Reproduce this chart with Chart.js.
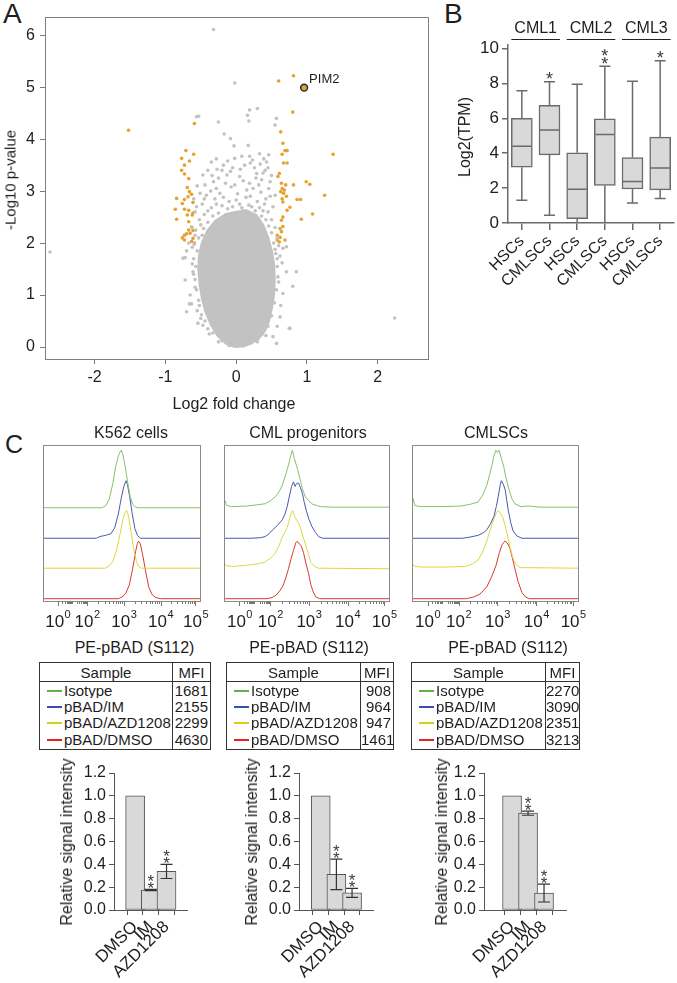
<!DOCTYPE html>
<html>
<head>
<meta charset="utf-8">
<title>PIM2 / pBAD figure</title>
<script src="https://cdn.jsdelivr.net/npm/chart.js@4.4.1/dist/chart.umd.min.js"></script>
<style>
    html, body { margin: 0; padding: 0; background: #fff; }
    body { position: relative; width: 677px; height: 983px; overflow: hidden;
           font-family: 'Liberation Sans', Arial, Helvetica, sans-serif; color: #1e1e1e; }
    canvas { position: absolute; display: block; }
    .txt { position: absolute; white-space: nowrap; line-height: 1; font-size: 16px;
           transform: translate(-50%, -50%); }
    .rot { transform: translate(-50%, -50%) rotate(-90deg); }
    .letter { position: absolute; font-size: 28px; line-height: 1; }
    table.mfi { position: absolute; border-collapse: collapse; table-layout: fixed;
                font-size: 15px; line-height: 1; border: 1.5px solid #333; }
    table.mfi th, table.mfi td { padding: 0; font-weight: normal; white-space: nowrap; overflow: hidden; }
    table.mfi th { height: 18px; border-bottom: 1px solid #333; text-align: center; }
    table.mfi td { height: 16px; vertical-align: middle; }
    table.mfi tr.last td { height: 19px; }
    table.mfi .m { border-left: 1px solid #333; }
    table.mfi td.m { text-align: right; padding-right: 2px; }
    table.mfi td.s { padding-left: 7px; }
    table.mfi i { display: inline-block; width: 15px; height: 2px; vertical-align: middle; margin: -2px 2px 0 0; }
</style>
</head>
<body>

<div class="letter" style="left:3px; top:0px;">A</div>
<div class="letter" style="left:444px; top:0px;">B</div>
<div class="letter" style="left:5px; top:432px; font-size:25px;">C</div>

<canvas id="volcano" width="440" height="420" style="left:0; top:0;"></canvas>
<div class="txt rot" style="left:10px; top:180px; font-size:15px;">-Log10 p-value</div>
<div class="txt" style="left:234px; top:404px;">Log2 fold change</div>

<canvas id="boxes" width="237" height="300" style="left:440px; top:0;"></canvas>
<div class="txt rot" style="left:465px; top:137px;">Log2(TPM)</div>

<canvas id="hist0" width="198" height="195" style="left:23px; top:440px;"></canvas>
<canvas id="hist1" width="206" height="195" style="left:204px; top:440px;"></canvas>
<canvas id="hist2" width="207" height="195" style="left:392px; top:440px;"></canvas>

<canvas id="bars0" width="150" height="223" style="left:45px; top:760px;"></canvas>
<canvas id="bars1" width="150" height="223" style="left:230px; top:760px;"></canvas>
<canvas id="bars2" width="160" height="223" style="left:415px; top:760px;"></canvas>

<script>
// ---------------------------------------------------------------
// Data
// ---------------------------------------------------------------

// Panel A: volcano plot, [log2 fold change, -log10 p]
const volcanoXTicks = [-2, -1, 0, 1, 2];
const volcanoYTicks = [0, 1, 2, 3, 4, 5, 6];

// outline of the solid grey core of the cloud
const volcanoCore = [
    [0.0, -0.02], [0.12, 0.0], [0.22, 0.05], [0.33, 0.15], [0.42, 0.3], [0.48, 0.5],
    [0.52, 0.75], [0.55, 1.0], [0.56, 1.3], [0.55, 1.6], [0.52, 1.85], [0.47, 2.1],
    [0.40, 2.35], [0.30, 2.55], [0.15, 2.65], [0.0, 2.62], [-0.15, 2.58], [-0.30, 2.45],
    [-0.42, 2.25], [-0.50, 2.0], [-0.54, 1.75], [-0.55, 1.5], [-0.53, 1.2], [-0.50, 0.95],
    [-0.45, 0.68], [-0.37, 0.42], [-0.27, 0.2], [-0.15, 0.05], [-0.07, 0.0]
];

const volcanoGrey = [
    [-0.32, 6.11], [-0.02, 5.08], [0.30, 4.59], [0.19, 4.56], [0.16, 4.46], [0.18, 4.35],
    [0.57, 4.40], [0.55, 4.27], [-0.56, 4.43], [-0.53, 4.44], [-0.25, 4.33], [-0.17, 4.10],
    [-0.08, 4.01], [-0.03, 3.87], [0.17, 3.88],
    [-0.35, 3.56], [-0.02, 3.63], [0.08, 3.67], [0.19, 3.67], [0.33, 3.72], [0.43, 3.56],
    [0.39, 3.62], [-0.47, 3.31], [-0.18, 3.50], [-0.13, 3.31], [0.12, 3.50], [0.20, 3.54],
    [0.29, 3.34], [0.41, 3.40], [0.05, 3.28], [-0.32, 3.18], [-0.51, 2.96], [-0.07, 3.08],
    [0.19, 3.15], [0.48, 3.18], [0.55, 2.92], [-0.23, 2.96], [0.02, 2.95], [0.35, 2.98],
    [-0.40, 3.40], [-0.27, 3.42], [0.26, 3.45], [-0.44, 3.12], [0.10, 3.20], [0.36, 3.22],
    [-0.15, 3.15], [0.24, 3.05], [-0.36, 3.00], [0.46, 3.05], [0.50, 3.30], [-0.55, 3.10],
    [-0.60, 2.85], [-0.30, 2.85], [0.14, 2.88], [0.42, 2.85], [-0.48, 2.75], [-0.10, 2.80],
    [0.30, 2.80], [0.52, 2.70], [-0.58, 2.60], [-0.40, 2.62], [0.05, 2.75], [0.45, 2.60],
    [-0.52, 2.45], [0.50, 2.45], [-0.62, 2.30], [0.55, 2.30], [-0.58, 2.15], [0.58, 2.10],
    [-0.67, 2.00], [0.60, 1.95], [-0.70, 1.85], [-0.62, 1.92], [0.62, 1.75], [0.55, 1.88],
    [-0.75, 1.71], [-0.72, 1.72], [0.71, 1.93], [0.66, 1.90], [-0.20, 2.72], [0.22, 2.70],
    [-0.35, 2.68], [0.38, 2.62], [-0.25, 3.25], [0.32, 3.12], [-0.05, 3.45], [0.45, 3.45],
    [0.80, 1.17], [0.71, 1.45], [0.75, 0.36], [0.57, 0.07], [0.85, 1.45], [0.66, 1.03],
    [0.62, 0.58], [0.76, 0.36], [0.60, 1.25], [0.63, 0.80], [0.58, 0.40], [0.52, 0.20],
    [-0.63, 0.83], [-0.66, 0.83], [-0.70, 0.68], [-0.47, 0.42], [-0.54, 0.46], [-0.72, 1.29],
    [-0.65, 1.00], [-0.60, 1.40], [-0.58, 1.15], [-0.55, 0.70], [-0.50, 0.55], [-0.38, 0.25],
    [-0.25, 0.10], [0.30, 0.10], [0.42, 0.22], [-0.62, 1.60], [0.58, 1.55], [0.65, 1.62],
    [-0.56, 2.70], [-0.45, 2.55], [-0.50, 2.35], [-0.57, 2.25], [-0.53, 2.10], [-0.59, 1.98],
    [-0.55, 1.85], [-0.60, 1.70], [-0.57, 1.55], [-0.61, 1.45], [-0.58, 1.30], [-0.56, 1.10],
    [-0.53, 0.90], [-0.52, 0.80], [-0.49, 0.62], [-0.44, 0.50], [-0.40, 0.35], [-0.33, 0.27],
    [-0.20, 0.12], [-0.10, 0.03], [0.10, 0.02], [0.20, 0.10], [0.28, 0.16], [0.37, 0.25],
    [0.45, 0.40], [0.50, 0.60], [0.54, 0.85], [0.57, 1.10], [0.59, 1.35], [0.58, 1.70],
    [0.56, 1.80], [0.53, 2.00], [0.50, 2.20], [0.46, 2.33], [0.42, 2.45], [0.36, 2.52],
    [0.27, 2.62], [0.18, 2.73], [0.08, 2.68], [-0.05, 2.70], [-0.12, 2.66], [-0.25, 2.58],
    [-0.33, 2.52], [-0.40, 2.40], [-0.46, 2.28], [-0.48, 2.15],
    [-0.42, 2.92], [-0.18, 2.88], [0.00, 2.83], [0.20, 2.90], [0.40, 2.75], [-0.28, 3.05],
    [-0.02, 3.12], [0.15, 3.02], [0.28, 3.25], [-0.08, 3.38], [0.38, 3.35], [-0.34, 3.30],
    [0.06, 3.42], [-0.20, 3.40], [0.23, 3.60], [-0.28, 3.62], [0.46, 3.70], [-0.12, 3.58],
    [0.34, 3.52], [-0.45, 2.85], [0.48, 2.90], [0.10, 2.62], [-0.28, 2.75], [0.33, 2.68],
    [-2.63, 1.83], [2.24, 0.56]
];

const volcanoOrange = [
    [-1.52, 4.17], [-0.59, 4.30], [-0.71, 3.78], [-0.60, 3.71], [-0.77, 3.63], [-0.66, 3.58],
    [-0.73, 3.50], [-0.77, 3.40], [-0.73, 3.33], [-0.67, 3.24], [-0.69, 3.07], [-0.66, 2.99],
    [-0.63, 2.94], [-0.68, 2.89], [-0.84, 2.86], [-0.73, 2.84], [-0.61, 2.78], [-0.76, 2.76],
    [-0.86, 2.65], [-0.73, 2.65], [-0.67, 2.63], [-0.61, 2.58], [-0.69, 2.54], [-0.62, 2.54],
    [-0.84, 2.46], [-0.67, 2.41], [-0.63, 2.31], [-0.67, 2.25], [-0.61, 2.24], [-0.65, 2.19],
    [-0.73, 2.15], [-0.70, 2.18], [-0.76, 2.10], [-0.61, 2.09], [-0.63, 2.03], [-0.73, 2.06],
    [-0.59, 2.00],
    [0.60, 5.12], [0.81, 5.22], [0.80, 4.52], [0.63, 4.14], [0.66, 3.92], [0.69, 3.78],
    [0.72, 3.78], [0.65, 3.71], [0.67, 3.54], [0.72, 3.54], [0.61, 3.34], [0.59, 3.28],
    [0.64, 3.15], [0.70, 3.12], [0.65, 3.05], [0.68, 3.02], [0.63, 2.99], [0.67, 2.96],
    [0.71, 2.90], [0.65, 2.85], [0.66, 2.79], [0.81, 3.12], [0.99, 3.18], [1.04, 3.13],
    [1.25, 2.92], [1.37, 3.71], [0.86, 2.84], [0.91, 2.84], [0.76, 2.69], [0.72, 2.63],
    [0.92, 2.46], [1.08, 2.56], [0.66, 2.50], [0.64, 2.44], [0.66, 2.32], [0.62, 2.28],
    [0.64, 2.22], [0.58, 2.15], [0.62, 2.11], [0.58, 2.06], [0.61, 2.02], [0.69, 2.06]
];

const pim2Point = [0.96, 4.99];
const pim2Label = 'PIM2';

// Panel B: PIM2 expression box plots
const boxCategories = ['HSCs', 'CMLSCs', 'HSCs', 'CMLSCs', 'HSCs', 'CMLSCs'];
const boxGroups = ['CML1', 'CML2', 'CML3'];
const boxLow = [1.3, 0.45, 0.0, 0.0, 1.15, 1.4];
const boxQ1 = [3.2, 3.9, 0.25, 2.15, 1.95, 1.9];
const boxMedian = [4.4, 5.33, 1.93, 5.07, 2.38, 3.15];
const boxQ3 = [6.0, 6.75, 4.02, 5.97, 3.75, 4.92];
const boxHigh = [7.58, 8.1, 7.95, 8.98, 8.12, 9.3];
const boxStars = [0, 1, 0, 2, 0, 1];
const boxYTicks = [0, 2, 4, 6, 8, 10];

// Panel C: flow histograms, [position on the display axis, relative count]
const histTitles = ['K562 cells', 'CML progenitors', 'CMLSCs'];
const histTickValues = [0, 0.8, 1.8, 2.8, 3.75];
const histTickExponents = ['0', '2', '3', '4', '5'];

const k562Iso = [[-0.4, 0], [1.2, 0], [1.3, 0.03], [1.4, 0.14], [1.5, 0.42], [1.58, 0.72], [1.65, 0.9], [1.7, 0.97], [1.73, 1.0], [1.77, 0.93], [1.83, 0.74], [1.9, 0.46], [1.97, 0.2], [2.04, 0.06], [2.12, 0.01], [2.2, 0], [3.9, 0]];
const k562IM = [[-0.4, 0], [1.05, 0], [1.15, 0.03], [1.3, 0.05], [1.45, 0.08], [1.55, 0.18], [1.65, 0.42], [1.73, 0.7], [1.8, 0.9], [1.86, 1.0], [1.9, 0.93], [1.96, 0.72], [2.03, 0.42], [2.1, 0.17], [2.17, 0.05], [2.25, 0], [3.9, 0]];
const k562AZD = [[-0.4, 0], [1.3, 0], [1.4, 0.04], [1.5, 0.12], [1.6, 0.3], [1.7, 0.6], [1.78, 0.86], [1.84, 0.98], [1.88, 1.0], [1.93, 0.9], [2.0, 0.62], [2.07, 0.33], [2.14, 0.12], [2.2, 0.03], [2.28, 0], [3.9, 0]];
const k562DMSO = [[-0.4, 0], [1.65, 0], [1.75, 0.03], [1.85, 0.09], [1.95, 0.24], [2.04, 0.52], [2.12, 0.82], [2.17, 0.96], [2.2, 1.0], [2.25, 0.95], [2.32, 0.74], [2.4, 0.45], [2.48, 0.2], [2.57, 0.07], [2.67, 0.02], [2.8, 0], [3.9, 0]];

const progIso = [[-0.4, 0.06], [-0.37, 0.12], [-0.33, 0.04], [-0.2, 0.02], [0.2, 0.03], [0.45, 0.05], [0.67, 0.07], [0.8, 0.12], [0.93, 0.19], [1.03, 0.28], [1.11, 0.39], [1.2, 0.58], [1.27, 0.74], [1.32, 0.88], [1.37, 1.0], [1.42, 0.86], [1.5, 0.68], [1.57, 0.5], [1.63, 0.33], [1.7, 0.2], [1.79, 0.12], [1.9, 0.06], [2.1, 0.02], [2.4, 0.01], [3.9, 0.01]];
const progIM = [[-0.4, 0], [0.3, 0], [0.55, 0.01], [0.67, 0.03], [0.77, 0.08], [0.85, 0.14], [0.98, 0.22], [1.11, 0.32], [1.18, 0.42], [1.24, 0.56], [1.3, 0.75], [1.35, 0.9], [1.4, 0.98], [1.44, 0.9], [1.48, 0.95], [1.53, 0.96], [1.58, 0.88], [1.63, 0.78], [1.68, 0.62], [1.74, 0.46], [1.8, 0.33], [1.88, 0.2], [1.97, 0.1], [2.05, 0.03], [2.15, 0], [3.9, 0]];
const progAZD = [[-0.4, 0.12], [-0.36, 0.05], [-0.2, 0.03], [0.2, 0.05], [0.5, 0.08], [0.67, 0.11], [0.8, 0.17], [0.93, 0.26], [1.03, 0.4], [1.11, 0.54], [1.18, 0.63], [1.24, 0.71], [1.3, 0.86], [1.35, 0.97], [1.38, 1.0], [1.43, 0.9], [1.48, 0.84], [1.53, 0.79], [1.6, 0.66], [1.66, 0.52], [1.73, 0.37], [1.79, 0.24], [1.85, 0.1], [1.95, 0.03], [2.05, 0], [3.9, -0.01]];
const progDMSO = [[-0.4, 0], [0.7, 0], [0.85, 0.02], [0.95, 0.06], [1.05, 0.14], [1.13, 0.23], [1.2, 0.36], [1.27, 0.52], [1.34, 0.7], [1.4, 0.84], [1.46, 0.97], [1.5, 1.0], [1.55, 0.95], [1.6, 0.92], [1.66, 0.8], [1.72, 0.62], [1.79, 0.44], [1.85, 0.24], [1.92, 0.1], [1.98, 0.03], [2.08, 0], [3.9, 0]];

const lscIso = [[-0.4, 0.03], [-0.37, 0.16], [-0.33, 0.04], [-0.2, 0.02], [0.4, 0.02], [0.86, 0.03], [1.1, 0.06], [1.3, 0.1], [1.42, 0.22], [1.53, 0.4], [1.6, 0.58], [1.66, 0.74], [1.71, 0.9], [1.76, 1.0], [1.8, 0.96], [1.84, 1.0], [1.9, 0.86], [1.96, 0.72], [2.02, 0.52], [2.09, 0.33], [2.17, 0.16], [2.25, 0.07], [2.4, 0.02], [2.6, 0.03], [2.9, 0.01], [3.9, 0.01]];
const lscIM = [[-0.4, 0], [0.9, 0], [1.09, 0.02], [1.3, 0.05], [1.45, 0.1], [1.53, 0.15], [1.62, 0.25], [1.71, 0.38], [1.77, 0.55], [1.82, 0.72], [1.87, 0.92], [1.9, 1.0], [1.95, 0.94], [2.0, 0.84], [2.04, 0.66], [2.08, 0.48], [2.14, 0.28], [2.2, 0.13], [2.3, 0.04], [2.43, 0], [3.9, 0]];
const lscAZD = [[-0.4, 0.1], [-0.36, 0.04], [-0.2, 0.02], [0.5, 0.02], [0.96, 0.03], [1.15, 0.07], [1.3, 0.14], [1.42, 0.28], [1.53, 0.48], [1.62, 0.68], [1.71, 0.86], [1.78, 0.97], [1.82, 1.0], [1.88, 0.95], [1.93, 0.9], [1.99, 0.76], [2.05, 0.6], [2.12, 0.38], [2.2, 0.17], [2.28, 0.06], [2.38, 0.01], [3.9, 0]];
const lscDMSO = [[-0.4, 0], [1.0, 0], [1.19, 0.03], [1.35, 0.08], [1.53, 0.21], [1.65, 0.38], [1.76, 0.57], [1.85, 0.8], [1.92, 0.94], [1.99, 1.0], [2.05, 0.97], [2.12, 0.88], [2.18, 0.72], [2.25, 0.52], [2.33, 0.3], [2.43, 0.11], [2.52, 0.03], [2.62, 0], [3.9, 0]];

// MFI tables
const sampleNames = ['Isotype', 'pBAD/IM', 'pBAD/AZD1208', 'pBAD/DMSO'];
const k562Mfi = [1681, 2155, 2299, 4630];
const progMfi = [908, 964, 947, 1461];
const lscMfi = [2270, 3090, 2351, 3213];
const tableTitle = 'PE-pBAD (S112)';

// relative signal intensity bars
const barCategories = ['DMSO', 'IM', 'AZD1208'];
const k562Rel = [1.0, 0.175, 0.338];
const k562Err = [0, 0.005, 0.062];
const progRel = [1.0, 0.312, 0.15];
const progErr = [0, 0.133, 0.04];
const lscRel = [1.0, 0.848, 0.148];
const lscErr = [0, 0.018, 0.078];
const barStars = [0, 2, 2];
const barYTicks = [0, 0.2, 0.4, 0.6, 0.8, 1.0, 1.2];

// ---------------------------------------------------------------
// Styling and helpers
// ---------------------------------------------------------------
const FONT = "'Liberation Sans', Arial, Helvetica, sans-serif";
const TEXT = '#1e1e1e';
const AXIS_A = '#7d7d7d';
const AXIS_B = '#6b6b6b';
const AXIS_C = '#555555';
const GREY_DOT = '#c2c2c2';
const ORANGE = '#e6a12f';
const BOX_FILL = '#d9d9d9';

// curve colours (histograms) and legend colours (tables)
const histColours = ['#86c06a', '#4a58ad', '#dcd83e', '#d83a2e'];
const keyColours = ['#5fb346', '#3a4fb0', '#d6ce1c', '#e2281c'];
const histOffsets = [1.58, 1.05, 0.53, 0];

Chart.defaults.font.family = FONT;
Chart.defaults.color = TEXT;
Chart.defaults.animation = false;
Chart.defaults.plugins.legend.display = false;
Chart.defaults.plugins.tooltip.enabled = false;

const toXY = pts => pts.map(([x, y]) => ({ x, y }));
const setTicks = vals => scale => { scale.ticks = vals.map(value => ({ value })); };
const fixWidth = w => scale => { scale.width = w; };
const fixHeight = h => scale => { scale.height = h; };

/**
 * Draw stacked significance asterisks, lowest glyph bottom at yBottom
 */
function drawStars(ctx, x, yBottom, count, size, pitch) {
    if (!count) return;
    ctx.save();
    ctx.font = `${size}px ${FONT}`;
    ctx.fillStyle = '#3a3a3a';
    ctx.textAlign = 'center';
    ctx.textBaseline = 'alphabetic';
    const m = ctx.measureText('*');
    for (let k = 0; k < count; k++) {
        ctx.fillText('*', x, yBottom - k * pitch - m.actualBoundingBoxDescent);
    }
    ctx.restore();
}

// ---------------------------------------------------------------
// Panel A
// ---------------------------------------------------------------
const volcanoExtras = {
    id: 'volcanoExtras',
    beforeDatasetsDraw(chart) {
        const { ctx, scales: { x, y } } = chart;
        ctx.save();
        ctx.fillStyle = GREY_DOT;
        ctx.beginPath();
        volcanoCore.forEach(([vx, vy], i) => {
            const px = x.getPixelForValue(vx), py = y.getPixelForValue(vy);
            if (i === 0) ctx.moveTo(px, py); else ctx.lineTo(px, py);
        });
        ctx.closePath();
        ctx.fill();
        ctx.restore();
    },
    afterDraw(chart) {
        const { ctx, chartArea: a, scales: { x, y } } = chart;
        ctx.save();
        ctx.strokeStyle = AXIS_A;
        ctx.lineWidth = 1;
        ctx.beginPath();
        ctx.moveTo(a.left, a.top + 0.5);
        ctx.lineTo(a.right + 0.5, a.top + 0.5);
        ctx.lineTo(a.right + 0.5, a.bottom);
        ctx.stroke();
        ctx.font = `13px ${FONT}`;
        ctx.fillStyle = TEXT;
        ctx.textBaseline = 'alphabetic';
        ctx.fillText(pim2Label, x.getPixelForValue(pim2Point[0]) + 5, y.getPixelForValue(pim2Point[1]) - 5);
        ctx.restore();
    }
};

new Chart(document.getElementById('volcano'), {
    type: 'scatter',
    data: {
        datasets: [
            { data: toXY(volcanoGrey), backgroundColor: GREY_DOT, borderWidth: 0, pointRadius: 1.8 },
            { data: toXY(volcanoOrange), backgroundColor: ORANGE, borderWidth: 0, pointRadius: 1.8 },
            { data: toXY([pim2Point]), backgroundColor: '#d9a441', borderColor: '#2a2a2a', borderWidth: 1.5, pointRadius: 3.4 }
        ]
    },
    options: {
        responsive: false,
        layout: { padding: { top: 17, right: 12, left: 0, bottom: 0 } },
        scales: {
            x: {
                type: 'linear', min: -2.7, max: 2.71,
                afterBuildTicks: setTicks(volcanoXTicks), afterFit: fixHeight(61),
                border: { color: AXIS_A },
                grid: { drawOnChartArea: false, color: AXIS_A, tickLength: 5 },
                ticks: { font: { size: 16 }, color: TEXT, padding: 4, maxRotation: 0 }
            },
            y: {
                type: 'linear', min: -0.23, max: 6.35,
                afterBuildTicks: setTicks(volcanoYTicks), afterFit: fixWidth(45),
                border: { color: AXIS_A },
                grid: { drawOnChartArea: false, color: AXIS_A, tickLength: 5 },
                ticks: { font: { size: 16 }, color: TEXT, padding: 5 }
            }
        }
    },
    plugins: [volcanoExtras]
});

// ---------------------------------------------------------------
// Panel B
// ---------------------------------------------------------------
const boxExtras = {
    id: 'boxExtras',
    afterDatasetsDraw(chart) {
        const { ctx, scales: { y } } = chart;
        const meta = chart.getDatasetMeta(0);
        ctx.save();
        ctx.strokeStyle = AXIS_B;
        ctx.lineWidth = 1.5;
        meta.data.forEach((bar, i) => {
            const cx = bar.x, half = bar.width / 2;
            const yl = y.getPixelForValue(boxLow[i]), yh = y.getPixelForValue(boxHigh[i]);
            const y1 = y.getPixelForValue(boxQ1[i]), y3 = y.getPixelForValue(boxQ3[i]);
            const ym = y.getPixelForValue(boxMedian[i]);
            ctx.beginPath();
            ctx.moveTo(cx, y3); ctx.lineTo(cx, yh);
            ctx.moveTo(cx, y1); ctx.lineTo(cx, yl);
            ctx.moveTo(cx - 5.5, yh); ctx.lineTo(cx + 5.5, yh);
            if (boxLow[i] > 0) { ctx.moveTo(cx - 5.5, yl); ctx.lineTo(cx + 5.5, yl); }
            ctx.moveTo(cx - half + 1, ym); ctx.lineTo(cx + half - 1, ym);
            ctx.stroke();
            drawStars(ctx, cx, yh - 2.5, boxStars[i], 18, 7.3);
        });
        // group labels with underline
        ctx.fillStyle = TEXT;
        ctx.strokeStyle = '#222';
        ctx.lineWidth = 1;
        ctx.font = `16px ${FONT}`;
        ctx.textAlign = 'center';
        ctx.textBaseline = 'middle';
        boxGroups.forEach((g, k) => {
            const a = meta.data[2 * k], b = meta.data[2 * k + 1];
            const left = a.x - a.width / 2, right = b.x + b.width / 2;
            ctx.fillText(g, (left + right) / 2, 29);
            ctx.beginPath();
            ctx.moveTo(left, 39.5); ctx.lineTo(right, 39.5);
            ctx.stroke();
        });
        ctx.restore();
    }
};

new Chart(document.getElementById('boxes'), {
    type: 'bar',
    data: {
        labels: boxCategories,
        datasets: [{
            data: boxQ1.map((q, i) => [q, boxQ3[i]]),
            backgroundColor: BOX_FILL,
            borderColor: AXIS_B,
            borderWidth: 1.5,
            borderSkipped: false,
            barThickness: 21
        }]
    },
    options: {
        responsive: false,
        layout: { padding: { top: 45, right: 3, left: 0, bottom: 0 } },
        scales: {
            x: {
                afterFit: fixHeight(77),
                border: { color: AXIS_B, width: 1.5 },
                grid: { drawOnChartArea: false, color: AXIS_B, tickLength: 7, offset: false, lineWidth: 1.5 },
                ticks: { font: { size: 16 }, color: TEXT, padding: 2, minRotation: 45, maxRotation: 45, autoSkip: false }
            },
            y: {
                min: 0, max: 10.2,
                afterBuildTicks: setTicks(boxYTicks), afterFit: fixWidth(68),
                border: { color: AXIS_B, width: 1.5 },
                grid: { drawOnChartArea: false, color: AXIS_B, tickLength: 6, lineWidth: 1.5 },
                ticks: { font: { size: 17 }, color: TEXT, padding: 3 }
            }
        }
    },
    plugins: [boxExtras]
});

// ---------------------------------------------------------------
// Panel C: histograms
// ---------------------------------------------------------------
const histFrame = {
    id: 'histFrame',
    afterDraw(chart) {
        const { ctx, chartArea: a, scales: { x } } = chart;
        ctx.save();
        ctx.strokeStyle = '#8a8a8a';
        ctx.lineWidth = 1;
        ctx.strokeRect(a.left + 0.5, a.top + 0.5, a.right - a.left - 1, a.bottom - a.top);
        // minor ticks under the frame
        ctx.strokeStyle = '#777';
        ctx.beginPath();
        for (let i = 0; i < histTickValues.length - 1; i++) {
            const t0 = histTickValues[i], t1 = histTickValues[i + 1];
            const decades = i === 0 ? 2 : 1;
            for (let d = 0; d < decades; d++) {
                for (let k = 2; k <= 9; k++) {
                    const v = t0 + (t1 - t0) * (d + Math.log10(k)) / decades;
                    const px = Math.round(x.getPixelForValue(v)) + 0.5;
                    ctx.moveTo(px, a.bottom + 0.5); ctx.lineTo(px, a.bottom + 3);
                }
            }
        }
        histTickValues.forEach(v => {
            const px = Math.round(x.getPixelForValue(v)) + 0.5;
            ctx.moveTo(px, a.bottom + 0.5); ctx.lineTo(px, a.bottom + 5);
        });
        ctx.stroke();
        // decade labels with superscripts
        ctx.fillStyle = TEXT;
        ctx.textBaseline = 'alphabetic';
        ctx.textAlign = 'left';
        histTickValues.forEach((v, i) => {
            ctx.font = `17px ${FONT}`;
            const wBase = ctx.measureText('10').width;
            ctx.font = `11px ${FONT}`;
            const wExp = ctx.measureText(histTickExponents[i]).width;
            const x0 = x.getPixelForValue(v) - (wBase + wExp) / 2;
            ctx.font = `17px ${FONT}`;
            ctx.fillText('10', x0, a.bottom + 25.5);
            ctx.font = `11px ${FONT}`;
            ctx.fillText(histTickExponents[i], x0 + wBase + 0.5, a.bottom + 17);
        });
        ctx.restore();
    }
};

function createHistogram(id, curves) {
    new Chart(document.getElementById(id), {
        type: 'scatter',
        data: {
            datasets: curves.map((c, i) => ({
                data: c.map(([x, h]) => ({ x, y: h + histOffsets[i] })),
                showLine: true,
                borderColor: histColours[i],
                borderWidth: 1,
                pointRadius: 0,
                tension: 0
            }))
        },
        options: {
            responsive: false,
            layout: { padding: { top: 5, right: 20, left: 20, bottom: 34 } },
            scales: {
                x: { type: 'linear', min: -0.4, max: 3.9, display: false },
                y: { type: 'linear', min: -0.04, max: 2.67, display: false }
            }
        },
        plugins: [histFrame]
    });
}

createHistogram('hist0', [k562Iso, k562IM, k562AZD, k562DMSO]);
createHistogram('hist1', [progIso, progIM, progAZD, progDMSO]);
createHistogram('hist2', [lscIso, lscIM, lscAZD, lscDMSO]);

// ---------------------------------------------------------------
// Panel C: MFI tables
// ---------------------------------------------------------------
function createTable(left, top, colWidths, mfi) {
    const t = document.createElement('table');
    t.className = 'mfi';
    t.style.left = left + 'px';
    t.style.top = top + 'px';
    t.style.width = (colWidths[0] + colWidths[1]) + 'px';
    let html = `<colgroup><col style="width:${colWidths[0]}px"><col style="width:${colWidths[1]}px"></colgroup>`;
    html += '<tr><th class="s">Sample</th><th class="m">MFI</th></tr>';
    sampleNames.forEach((name, i) => {
        const cls = i === sampleNames.length - 1 ? ' class="last"' : '';
        html += `<tr${cls}><td class="s"><i style="background:${keyColours[i]}"></i>${name}</td><td class="m">${mfi[i]}</td></tr>`;
    });
    t.innerHTML = html;
    document.body.appendChild(t);
}

createTable(39, 662, [133, 38], k562Mfi);
createTable(226, 662, [134, 33], progMfi);
createTable(411, 662, [134, 34], lscMfi);

// ---------------------------------------------------------------
// Panel C: relative signal intensity
// ---------------------------------------------------------------
function barExtras(values, errors) {
    return {
        id: 'barExtras',
        afterDatasetsDraw(chart) {
            const { ctx, scales: { y } } = chart;
            const meta = chart.getDatasetMeta(0);
            ctx.save();
            ctx.strokeStyle = '#333';
            ctx.lineWidth = 1.2;
            meta.data.forEach((bar, i) => {
                const cx = bar.x;
                const hi = y.getPixelForValue(values[i] + errors[i]);
                if (errors[i] > 0) {
                    const lo = y.getPixelForValue(values[i] - errors[i]);
                    ctx.beginPath();
                    ctx.moveTo(cx, lo); ctx.lineTo(cx, hi);
                    ctx.moveTo(cx - 6, lo); ctx.lineTo(cx + 6, lo);
                    ctx.moveTo(cx - 6, hi); ctx.lineTo(cx + 6, hi);
                    ctx.stroke();
                }
                drawStars(ctx, cx, hi - 1.5, barStars[i], 17, 7);
            });
            ctx.restore();
        }
    };
}

function createBars(id, values, errors, xMin, xMax, padRight) {
    new Chart(document.getElementById(id), {
        type: 'bar',
        data: {
            datasets: [{
                data: values.map((v, i) => ({ x: i, y: v })),
                backgroundColor: BOX_FILL,
                borderColor: AXIS_C,
                borderWidth: 1,
                borderSkipped: false,
                barThickness: 19
            }]
        },
        options: {
            responsive: false,
            layout: { padding: { top: 13, right: padRight, left: 0, bottom: 0 } },
            scales: {
                x: {
                    type: 'linear', min: xMin, max: xMax,
                    afterBuildTicks: setTicks([0, 1, 2]), afterFit: fixHeight(73),
                    border: { color: AXIS_C },
                    grid: { drawOnChartArea: false, color: AXIS_C, tickLength: 5 },
                    ticks: {
                        font: { size: 17 }, color: TEXT, padding: 2, minRotation: 45, maxRotation: 45,
                        autoSkip: false, callback: v => barCategories[v]
                    }
                },
                y: {
                    min: 0, max: 1.2,
                    afterBuildTicks: setTicks(barYTicks), afterFit: fixWidth(69),
                    border: { color: AXIS_C },
                    grid: { drawOnChartArea: false, color: AXIS_C, tickLength: 5 },
                    ticks: { font: { size: 16 }, color: TEXT, padding: 3, callback: v => v.toFixed(1) }
                }
            }
        },
        plugins: [barExtras(values, errors)]
    });
}

createBars('bars0', k562Rel, k562Err, -0.57, 2.53, 8);
createBars('bars1', progRel, progErr, -0.6, 2.55, 7);
createBars('bars2', lscRel, lscErr, -0.9, 2.52, 9);

// ---------------------------------------------------------------
// Text labels for panel C
// ---------------------------------------------------------------
function addText(text, x, y, extraClass) {
    const d = document.createElement('div');
    d.className = 'txt' + (extraClass ? ' ' + extraClass : '');
    d.style.left = x + 'px';
    d.style.top = y + 'px';
    d.textContent = text;
    document.body.appendChild(d);
}

[131, 308, 496].forEach((x, i) => addText(histTitles[i], x, 433));
[134.5, 309, 508].forEach(x => addText(tableTitle, x, 648));
[67, 252, 442].forEach(x => addText('Relative signal intensity', x, 842, 'rot'));
</script>
</body>
</html>
